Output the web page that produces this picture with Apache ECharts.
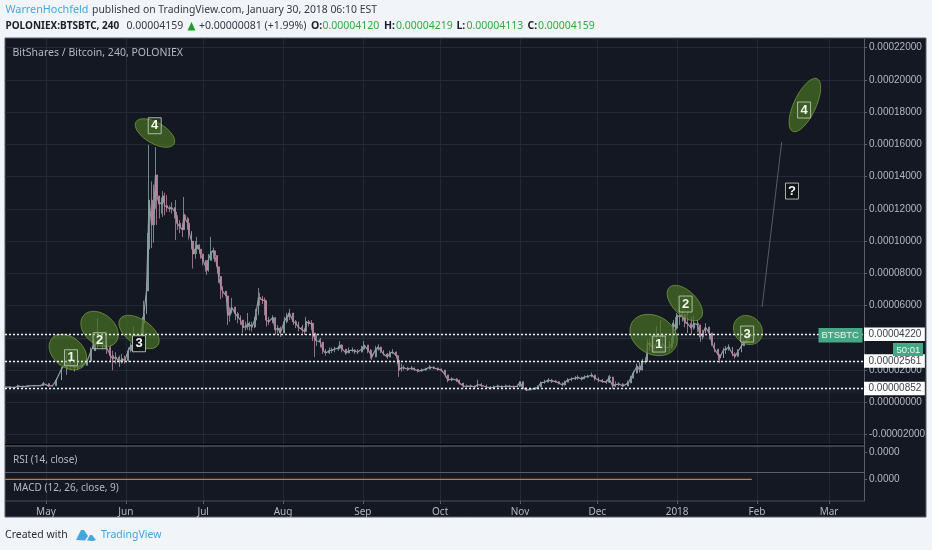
<!DOCTYPE html>
<html><head><meta charset="utf-8">
<style>html,body{margin:0;padding:0;background:#f1f4f9}#c{width:932px;height:550px}</style>
<script src="https://cdn.jsdelivr.net/npm/echarts@6/dist/echarts.min.js"></script>
</head><body><div id="c"></div>
<script>
// Prices in satoshi (1e-8 BTC). Days counted from 2017-05-01.
const dayOffsets=[-16,-14,-12,-11,-9,-7,-4.5,-2,-1,1,2.5,4,6,8,9.5,11,12.5,14,16,17.5,19,20,22,23.5,25,26,27,28.5,29.5,30.5,32,33,34,35.5,36.5,37.5,38,39,39.5,40,41,42,42.5,43,44,45,45.5,46,47,48,49,50,50.5,51,52,53,53.5,54,55,55.5,56.5,57,58,58.5,59.5,60,61,62,62.5,63,64,65,65.5,66.5,67,68,68.5,70,70.5,71.5,72,73.5,74.5,75.5,76.5,77.5,78.5,79,80,81,81.5,82.5,83,84,85,85.5,86.5,88,89,90,91,92.5,93.5,94.5,96,97,98,99.5,100.5,101,102,103,103.5,104.5,105,106.5,107.5,108.5,110,111,112,113.5,114,115,116.5,117.5,119,120,121,122.5,123.5,125,126,126.5,128,129,130,131,132.5,133.5,134.5,136,136.5,137,138,139,140.5,142,143,144.5,146,147.5,149,150.5,152,153.5,155,156,157.5,159.5,160.5,162,163.5,165,166.5,167.5,169,171,172.5,174,175.5,177,178.5,180,181.5,183,184,185,186.5,188,190,191,192,193.5,195,196.5,198,199,200.5,201.5,202.5,204,205.5,206.5,208,209,210.5,212,213,214.5,216,217.5,218.5,219,220,221,222.5,224,226,227,228,229.5,230.5,231.5,233,233.5,234.5,236,237,238.5,239.5,240.5,242,243,243.5,244.5,245,246,247,248,249,250.5,251.5,253,254,255,256,257.5,258.5,259.5,261,261.5,263,264,265,266.5,267.5,268.5,270,271,272,273,274];
const closes=[940,940,920,1020,960,1020,1040,1040,1160,1020,1030,1380,2060,2500,2300,2180,2190,2300,2560,3200,3700,3800,3600,3400,2900,2700,2800,2500,2700,2600,3200,3550,3400,3650,3700,4900,5500,6900,9500,12540,11000,12400,14100,12800,12300,12400,12800,12200,12100,12000,12050,11800,11500,11100,10870,10700,11600,11400,11100,10600,10000,9200,9500,9750,9500,9200,8800,8400,8200,8800,9300,9400,9100,8400,7800,7100,6900,6600,5400,5600,5900,5500,5300,5100,4650,4700,4900,4800,4670,5100,5500,6500,6400,6350,6300,5100,5000,5250,4500,4600,4300,5000,5300,5540,5000,4900,4650,4500,4400,5000,4900,4900,4300,3850,3900,3740,3240,3060,3200,3240,3300,3370,3550,3300,3060,3200,3240,3150,3120,3300,3550,3240,3000,2810,3300,3430,3200,3000,2810,3050,3120,2900,2620,2000,2150,2130,2050,2130,2050,1940,2000,2060,2190,2130,2060,2000,1700,1380,1450,1380,1200,1010,990,1010,950,1100,1050,950,880,950,1010,950,1000,990,960,1000,1280,900,760,800,860,950,1200,1250,1380,1320,1280,1200,1070,1250,1380,1450,1500,1550,1450,1560,1620,1690,1500,1380,1300,1250,1500,1570,1010,1100,1130,1010,1200,1500,1820,2250,2000,2500,2560,3680,3550,3300,3700,3550,3600,3400,3400,3680,4920,4600,5400,5300,5450,4950,4900,4600,4900,4800,4050,4300,4650,4300,3700,3300,2950,2750,3250,3300,3430,3000,2850,3120,3500,3750,3860,4120,4159];
const highs=[990,1000,970,1100,1030,1060,1080,1080,1280,1140,1080,1510,2200,3100,2700,2500,2400,2500,2750,3400,3900,5230,4300,3800,3500,3200,3100,2900,3000,2900,3400,3700,4700,3900,4200,5300,6300,7400,10500,15960,13700,13500,15830,13900,12700,12700,13100,13000,12850,12200,12400,12100,12540,11600,11300,11100,12730,11700,11500,11100,10600,10000,10000,10250,9800,9500,9200,8800,8400,9200,10250,9600,9400,8900,8300,7400,7200,6900,6300,5900,6470,5800,5600,5400,5000,5000,5540,5000,5000,5300,5800,7090,6800,6600,6500,5500,5300,5400,5200,4800,4700,5300,5550,5800,5500,5100,5000,4800,4600,5290,5100,5100,4700,4300,4200,4000,3700,3300,3400,3400,3450,3500,3800,3600,3300,3400,3400,3300,3300,3500,3800,3550,3300,3000,3500,3600,3450,3250,3050,3200,3300,3150,2900,2620,2400,2300,2200,2250,2150,2050,2100,2150,2300,2250,2150,2100,2000,1700,1550,1500,1400,1200,1100,1100,1050,1400,1200,1100,1000,1050,1100,1050,1100,1080,1050,1100,1280,1070,900,900,950,1050,1300,1400,1500,1450,1380,1320,1250,1350,1500,1550,1620,1680,1600,1680,1720,1850,1700,1550,1450,1400,1650,1700,1570,1300,1250,1200,1350,1650,1950,2400,2500,2700,2800,3900,3900,4200,4700,5100,4300,4000,3800,4000,5100,5300,5540,5850,5850,5500,5600,5300,5400,5100,4800,4500,4900,4700,4300,3700,3300,3000,3400,3500,3600,3430,3100,3300,3700,3950,4100,4219,4219];
const lows=[880,890,880,930,920,980,1000,1000,1080,950,980,1020,1500,1700,2000,1900,2000,2150,2350,2700,3300,3400,3300,3000,2500,1990,2400,2200,2400,2400,2500,3100,3100,3300,3400,3700,4700,5500,6900,9000,9570,9900,12000,11000,11400,11700,11500,11600,11800,11800,11700,11400,10060,10700,10500,10250,11000,11000,10700,10100,9500,8300,8900,9200,9200,8900,8500,8100,7900,8100,9000,8900,8700,8000,7400,6400,6500,6300,4800,5000,5500,5100,4900,4800,4300,4450,4500,4450,4400,4600,5000,5400,6000,6100,5400,4700,4800,4900,4200,4300,4050,4500,4900,5100,4800,4600,4400,4300,4200,4400,4700,4500,3800,2800,3500,3400,3000,2900,3000,3050,3100,3200,3300,3100,2950,3050,3100,3000,3000,3100,3250,3050,2700,2620,2800,3200,3050,2900,2700,2800,3000,2750,2400,1570,1900,2000,1950,2000,1950,1850,1900,1950,2100,2050,1950,1900,1550,1250,1300,1250,1100,900,900,900,880,950,950,880,800,850,920,880,920,920,890,930,960,820,700,740,790,860,950,1150,1250,1200,1200,1100,980,1050,1250,1300,1380,1400,1350,1450,1500,1550,1350,1250,1200,1150,1250,1200,850,950,1000,950,1050,1200,1500,1800,1850,2000,2400,2500,3200,3100,3300,3200,3200,3150,3150,3300,3680,4200,4500,4800,5000,4650,4300,4200,4500,4350,3750,3900,4300,3900,3500,3100,2620,2440,2900,3000,3200,2850,2700,2800,3100,3500,3700,4000,4113];
const levelPrices=[4220,2561,852];
const monthDays=[0,31,61,92,123,153,184,214,245,276,304];
const monthLabels=['May','Jun','Jul','Aug','Sep','Oct','Nov','Dec','2018','Feb','Mar'];
const ellipseNotes=[
 {day:8.5,price:3120,a:21,b:15,deg:-40},{day:20.8,price:4545,a:21,b:15,deg:-40},
 {day:36.1,price:4360,a:23,b:12.5,deg:-35},{day:42.3,price:16700,a:22,b:10.5,deg:-30},
 {day:235.9,price:4173,a:25,b:19,deg:-30},{day:248,price:6157,a:22,b:12,deg:-45},
 {day:272.5,price:4483,a:15.5,b:13.5,deg:-45},{day:294.6,price:18433,a:29,b:11,deg:65}];
const boxNotes=[
 {day:9.7,price:2765,text:'1',solid:false},{day:20.8,price:3819,text:'2',solid:false},
 {day:36.1,price:3633,text:'3',solid:true},{day:42.2,price:17149,text:'4',solid:false},
 {day:237.9,price:3615,text:'1',solid:false},{day:248.3,price:6095,text:'2',solid:false},
 {day:272.2,price:4235,text:'3',solid:false},{day:294.3,price:18123,text:'4',solid:false},
 {day:289.6,price:13100,text:'?',solid:true}];
const trendDays=[278,285.6];
const trendPrices=[5909,16140];
const macdDays=[-16,274];
const macdValues=[0,0];

const DAY=86400000, BASE=Date.UTC(2017,4,1);
const toTime=d=>BASE+d*DAY;
const X0=toTime(-15.92), X1=toTime(317.55);
const fmt8=v=>(v/1e8).toFixed(8);
const candles=dayOffsets.map((d,i)=>[toTime(d),i?closes[i-1]:closes[0],closes[i],lows[i],highs[i]]);
const monthTimes=monthDays.map(toTime);
const PANE='#141823',GRID='#242936',TXT='#b4b7c0',SANS='"Liberation Sans",Arial,sans-serif',UI='"Noto Sans",sans-serif';
const t=(x,y,text,fill,weight,size,font)=>({type:'text',x,y,z:50,style:{text,fill,font:(weight||'normal')+' '+(size||10.5)+'px '+(font||UI),verticalAlign:'middle'}});
const GREEN='#2fae3e';
const graphicEls=[
 {type:'rect',z:-10,shape:{x:5,y:38,width:921,height:479},style:{fill:PANE,stroke:'#5a5e68',lineWidth:1}},
 t(5.5,10,'WarrenHochfeld','#3fa9e0','normal',10.8),t(92,10,'published on TradingView.com, January 30, 2018 06:10 EST','#333a45','normal',10.4),
 t(5.5,26,'POLONIEX:BTSBTC, 240','#1b1f28','bold',10),t(126.5,26,'0.00004159','#333a45'),
 {type:'polygon',z:50,shape:{points:[[187.5,30.5],[195.5,30.5],[191.5,22]]},style:{fill:'#1fa02c'}},
 t(199,26,'+0.00000081 (+1.99%)','#333a45'),
 t(311,26,'O:','#1b1f28','bold'),t(322.5,26,'0.00004120',GREEN),
 t(384,26,'H:','#1b1f28','bold'),t(396,26,'0.00004219',GREEN),
 t(456.5,26,'L:','#1b1f28','bold'),t(466.5,26,'0.00004113',GREEN),
 t(527.5,26,'C:','#1b1f28','bold'),t(538,26,'0.00004159',GREEN),
 t(12.5,53.5,'BitShares / Bitcoin, 240, POLONIEX',TXT),
 t(13,460.5,'RSI (14, close)',TXT,'normal',10),
 t(13,488,'MACD (12, 26, close, 9)',TXT,'normal',10),
 {type:'line',z:6,shape:{x1:5,y1:444.5,x2:864,y2:444.5},style:{stroke:'#000',lineWidth:1}},
 {type:'line',z:6,shape:{x1:5,y1:446,x2:864,y2:446},style:{stroke:'#4b4f5a',lineWidth:1.5}},
 {type:'line',z:6,shape:{x1:5,y1:472.5,x2:864,y2:472.5},style:{stroke:'#5a5e68',lineWidth:1}},
 {type:'line',z:6,shape:{x1:5,y1:501,x2:864,y2:501},style:{stroke:'#4b4f5a',lineWidth:1}},
 {type:'rect',z:45,shape:{x:818.5,y:328,width:44,height:14.5},style:{fill:'#45a884'}},
 t(821.5,335.5,'BTSBTC','#eaf6f1','normal',9.5,SANS),
 {type:'rect',z:40,shape:{x:893,y:343,width:30,height:13},style:{fill:'#45a884'}},
 t(896.5,350,'50:01','#eaf6f1','normal',9.5,SANS),
 t(5,535,'Created with','#2a2e39','normal',10.5),
 {type:'polygon',z:50,shape:{points:[[76,540],[81,530],[84,530],[88,536],[85,540.5]]},style:{fill:'#45a5dd'}},
 {type:'polygon',z:50,shape:{points:[[87,540.5],[90,535],[92,535],[96,540],[93,541]]},style:{fill:'#45a5dd'}},
 t(101,535,'TradingView','#45a5dd','normal',10.5)
];
const chart=echarts.init(document.getElementById('c'),null,{renderer:'canvas'});
chart.setOption({
 animation:false,useUTC:true,backgroundColor:'#f1f4f9',
 graphic:{elements:graphicEls},
 grid:[
  {left:5,width:859,top:39,height:462},
  {left:5,width:859,top:47.5,height:387.1},
  {left:5,width:859,top:447,height:25},
  {left:5,width:859,top:473,height:28}
 ],
 xAxis:[
  {gridIndex:0,type:'value',min:X0,max:X1,
   axisLine:{show:false},axisTick:{show:true,customValues:monthTimes,length:3,lineStyle:{color:'#5a5e68'}},
   splitLine:{show:true,lineStyle:{color:GRID,width:1}},
   axisLabel:{customValues:monthTimes,margin:6,fontSize:10,fontFamily:UI,color:TXT,
     hideOverlap:false,
     formatter:v=>monthLabels[monthTimes.indexOf(v)]||''}},
  {gridIndex:1,type:'value',min:X0,max:X1,show:false},
  {gridIndex:2,type:'value',min:X0,max:X1,show:false},
  {gridIndex:3,type:'value',min:X0,max:X1,show:false}
 ],
 yAxis:[
  {gridIndex:0,type:'value',min:0,max:1,position:'right',splitLine:{show:false},axisLabel:{show:false},axisTick:{show:false},
   axisLine:{show:true,lineStyle:{color:'#5a5e68',width:1}}},
  {gridIndex:1,type:'value',min:-2000,max:22000,interval:2000,position:'right',
   splitLine:{lineStyle:{color:GRID,width:1}},axisLine:{show:false},
   axisTick:{show:true,length:3,lineStyle:{color:'#5a5e68'}},
   axisLabel:{margin:5,fontSize:10,fontFamily:SANS,color:TXT,formatter:fmt8}},
  {gridIndex:2,type:'value',min:-4,max:1,position:'right',
   splitLine:{show:false},axisLine:{show:false},
   axisTick:{show:true,length:3,customValues:[0],lineStyle:{color:'#5a5e68'}},
   axisLabel:{customValues:[0],margin:5,fontSize:10,fontFamily:SANS,color:TXT,formatter:v=>v.toFixed(4)}},
  {gridIndex:3,type:'value',min:-10,max:3,position:'right',
   splitLine:{show:false},axisLine:{show:false},
   axisTick:{show:true,length:3,customValues:[0],lineStyle:{color:'#5a5e68'}},
   axisLabel:{customValues:[0],margin:5,fontSize:10,fontFamily:SANS,color:TXT,formatter:v=>v.toFixed(4)}}
 ],
 series:[
  {type:'line',xAxisIndex:1,yAxisIndex:1,data:dayOffsets.map((d,i)=>[toTime(d),closes[i]]),showSymbol:false,silent:true,
   lineStyle:{color:'#9a99a6',width:1.2},z:2,
   markLine:{silent:true,symbol:'none',animation:false,
     lineStyle:{color:'#f2f4f6',type:[2,2],width:1.4,shadowColor:'rgba(130,170,180,0.45)',shadowBlur:4,shadowOffsetY:2},
     label:{position:'end',distance:0,formatter:p=>fmt8(p.value),backgroundColor:'#fff',color:'#3a3f4a',
       fontSize:10,fontFamily:SANS,padding:[2,3.5,1.5,4.5],borderRadius:0},
     data:levelPrices.map(v=>({yAxis:v}))}},
  {type:'candlestick',xAxisIndex:1,yAxisIndex:1,data:candles,barWidth:1.4,z:3,silent:true,
   encode:{x:0,y:[1,2,3,4]},
   itemStyle:{color:'#6f9c97',color0:'#b87f95',borderColor:'#8aa3a3',borderColor0:'#b58a9c',borderWidth:0.8}},
  {type:'line',xAxisIndex:1,yAxisIndex:1,data:trendDays.map((d,i)=>[toTime(d),trendPrices[i]]),showSymbol:false,silent:true,
   lineStyle:{color:'#565b66',width:1},z:3},
  {type:'custom',xAxisIndex:1,yAxisIndex:1,clip:false,z:4,silent:true,
   data:ellipseNotes.map(e=>[toTime(e.day),e.price,e.a,e.b,e.deg]),encode:{x:0,y:1},
   renderItem:(p,api)=>{const c=api.coord([api.value(0),api.value(1)]);
     return {type:'ellipse',x:c[0],y:c[1],rotation:api.value(4)*Math.PI/180,
       shape:{cx:0,cy:0,rx:api.value(2),ry:api.value(3)},
       style:{fill:'rgba(70,112,34,0.72)',stroke:'#6f8e38',lineWidth:0.8}};}},
  {type:'custom',xAxisIndex:1,yAxisIndex:1,clip:false,z:5,silent:true,
   data:boxNotes.map(b=>[toTime(b.day),b.price]),encode:{x:0,y:1},
   renderItem:(p,api)=>{const c=api.coord([api.value(0),api.value(1)]);const b=boxNotes[p.dataIndex];
     return {type:'group',children:[
       {type:'rect',shape:{x:c[0]-6.5,y:c[1]-8,width:13,height:16},
        style:{fill:b.solid?'#0f1219':'rgba(70,105,40,0.35)',stroke:'#b9c6b6',lineWidth:0.9}},
       {type:'text',x:c[0],y:c[1],style:{text:b.text,fill:'#f4f6f2',font:'bold 13px '+SANS,align:'center',verticalAlign:'middle'}}]};}},
  {type:'line',xAxisIndex:3,yAxisIndex:3,data:macdDays.map((d,i)=>[toTime(d),macdValues[i]]),showSymbol:false,silent:true,
   lineStyle:{color:'#d0763a',width:1.2},z:8}
 ]
});
</script></body></html>
